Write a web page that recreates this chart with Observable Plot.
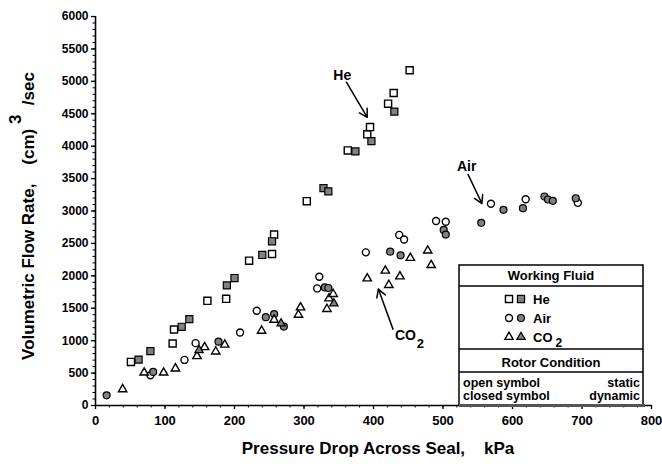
<!DOCTYPE html>
<html><head><meta charset="utf-8">
<script src="https://cdn.jsdelivr.net/npm/d3@7"></script>
<script src="https://cdn.jsdelivr.net/npm/@observablehq/plot@0.6"></script>
<style>
body{margin:0;background:#fff;}
svg{display:block;}
</style>
</head><body><div id="chart"></div>
<script>
// ---- data (kPa, cm^3/sec) ----
const heStaticX  = [51,111,113,161,188,221,254,257,304,363,391,395,421,429,452];
const heStaticY  = [672,956,1172,1615,1646,2234,2337,2636,3151,3934,4182,4295,4656,4820,5171];
const heDynX     = [62,79,124,135,189,200,240,254,328,335,374,397,430];
const heDynY     = [708,838,1214,1333,1852,1966,2322,2533,3352,3303,3919,4078,4533];
const airStaticX = [79,128,144,208,232,319,322,389,437,444,490,504,569,619,694];
const airStaticY = [467,703,962,1126,1461,1806,1987,2362,2631,2560,2845,2835,3111,3182,3126];
const airDynX    = [16,83,177,245,257,271,330,335,424,439,501,504,555,587,615,646,651,658,691];
const airDynY    = [157,518,984,1363,1410,1218,1821,1812,2373,2316,2708,2636,2817,3018,3043,3224,3177,3157,3197];
const co2StaticX = [39,70,98,115,146,157,173,186,239,257,292,295,333,336,342,391,417,422,438,453,478,483];
const co2StaticY = [250,507,507,570,760,899,832,938,1152,1322,1399,1512,1487,1651,1719,1960,2079,1858,1991,2276,2389,2165];
const co2DynX    = [149,267,343];
const co2DynY    = [853,1265,1574];

const xTicks = [0,100,200,300,400,500,600,700,800];
const yTicks = [0,500,1000,1500,2000,2500,3000,3500,4000,4500,5000,5500,6000];
const xMinor = d3.range(0, 801, 20);
const yMinor = d3.range(0, 6001, 100);

// annotations (data coordinates)
const labelText = ["He","Air","CO"];
const labelX = [355,534,446];
const labelY = [5094,3688,1074];
const arrowX1 = [361,536,428];
const arrowY1 = [4986,3564,1178];
const arrowX2 = [391,556,407];
const arrowY2 = [4445,3115,1796];

const pts = (xs, ys) => xs.map((x, i) => ({x, y: ys[i]}));
const labels = labelText.map((t, i) => ({t, x: labelX[i], y: labelY[i]}));
const arrows = arrowX1.map((x1, i) => ({x1, y1: arrowY1[i], x2: arrowX2[i], y2: arrowY2[i]}));

const closedFill = "#808080";
const font = "Liberation Sans, Arial, Helvetica, sans-serif";

const chart = Plot.plot({
  width: 662, height: 464,
  marginLeft: 95, marginRight: 11, marginTop: 16, marginBottom: 59,
  style: {fontFamily: font, background: "white", color: "black"},
  x: {domain: [0, 800]},
  y: {domain: [0, 6000]},
  marks: [
    Plot.axisX(xMinor, {tickSize: 2.5, tickFormat: () => "", label: null, strokeWidth: 1}),
    Plot.axisY(yMinor, {tickSize: 2.5, tickFormat: () => "", label: null, strokeWidth: 1}),
    Plot.axisX(xTicks, {tickSize: 4, tickPadding: 6, fontSize: 13, fontWeight: "bold", label: null, strokeWidth: 1.3, tickFormat: d => String(d)}),
    Plot.axisY(yTicks, {tickSize: 4, tickPadding: 3, fontSize: 12, fontWeight: "bold", label: null, strokeWidth: 1.3, tickFormat: d => String(d)}),
    Plot.ruleY([0], {strokeWidth: 1.6}),
    Plot.ruleX([0], {strokeWidth: 1.6}),
    Plot.dot(pts(heStaticX, heStaticY), {x: "x", y: "y", symbol: "square", r: 4, fill: "white", stroke: "black", strokeWidth: 1.4}),
    Plot.dot(pts(heDynX, heDynY), {x: "x", y: "y", symbol: "square", r: 4, fill: closedFill, stroke: "black", strokeWidth: 1.2}),
    Plot.dot(pts(airStaticX, airStaticY), {x: "x", y: "y", symbol: "circle", r: 3.5, fill: "white", stroke: "black", strokeWidth: 1.4}),
    Plot.dot(pts(airDynX, airDynY), {x: "x", y: "y", symbol: "circle", r: 3.5, fill: closedFill, stroke: "black", strokeWidth: 1.2}),
    Plot.dot(pts(co2StaticX, co2StaticY), {x: "x", y: "y", symbol: "triangle", r: 3.1, fill: "white", stroke: "black", strokeWidth: 1.4}),
    Plot.dot(pts(co2DynX, co2DynY), {x: "x", y: "y", symbol: "triangle", r: 3.1, fill: closedFill, stroke: "black", strokeWidth: 1.2}),
    Plot.arrow(arrows, {x1: "x1", y1: "y1", x2: "x2", y2: "y2", stroke: "black", strokeWidth: 1.5, headLength: 9}),
    Plot.text(labels, {x: "x", y: "y", text: "t", fontSize: 14, fontWeight: "bold", fill: "black"}),
    Plot.text(labels.filter(d => d.t === "CO"), {x: "x", y: "y", text: () => "2", dx: 15, dy: 8, fontSize: 13, fontWeight: "bold", fill: "black"})
  ]
});

document.getElementById("chart").appendChild(chart);
const svg = d3.select(chart);

// axis titles
svg.append("text")
  .attr("x", 378).attr("y", 454)
  .attr("text-anchor", "middle")
  .attr("font-family", font).attr("font-size", 17).attr("font-weight", "bold")
  .attr("fill", "black")
  .text("Pressure Drop Across Seal,\u00a0\u00a0\u00a0\u00a0kPa");

const yt = svg.append("text")
  .attr("transform", "translate(34,216) rotate(-90)")
  .attr("text-anchor", "middle")
  .attr("font-family", font).attr("font-size", 17).attr("font-weight", "bold")
  .attr("fill", "black");
yt.append("tspan").text("Volumetric Flow Rate,\u00a0\u00a0\u00a0\u00a0(cm)\u00a0");
yt.append("tspan").attr("dy", "-0.75em").text("3");
yt.append("tspan").attr("dy", "0.75em").text("\u00a0\u00a0/sec");

// legend box
const lg = svg.append("g").attr("font-family", font).attr("font-weight", "bold").attr("fill", "black").attr("text-anchor", "start");
lg.append("rect").attr("x", 459).attr("y", 265).attr("width", 184).attr("height", 140)
  .attr("fill", "white").attr("stroke", "black").attr("stroke-width", 1.5);
[286, 349, 372].forEach(y => lg.append("line").attr("x1", 459).attr("x2", 643).attr("y1", y).attr("y2", y)
  .attr("stroke", "black").attr("stroke-width", 1.4));
lg.append("line").attr("x1", 459).attr("x2", 645).attr("y1", 405.5).attr("y2", 405.5)
  .attr("stroke", "#555").attr("stroke-width", 3);
lg.append("text").attr("x", 551).attr("y", 279.5).attr("text-anchor", "middle").attr("font-size", 13).text("Working Fluid");
lg.append("text").attr("x", 551).attr("y", 366.5).attr("text-anchor", "middle").attr("font-size", 13).text("Rotor Condition");
lg.append("text").attr("x", 463).attr("y", 387).attr("text-anchor", "start").attr("font-size", 12.5).text("open symbol");
lg.append("text").attr("x", 640).attr("y", 387).attr("text-anchor", "end").attr("font-size", 12.5).text("static");
lg.append("text").attr("x", 463).attr("y", 400).attr("text-anchor", "start").attr("font-size", 12.5).text("closed symbol");
lg.append("text").attr("x", 640).attr("y", 400).attr("text-anchor", "end").attr("font-size", 12.5).text("dynamic");

const legendRows = [
  {name: "He", sym: d3.symbolSquare, size: Math.PI * 16, y: 299},
  {name: "Air", sym: d3.symbolCircle, size: Math.PI * 12.25, y: 318},
  {name: "CO", sym: d3.symbolTriangle, size: Math.PI * 9.6, y: 337}
];
legendRows.forEach(r => {
  lg.append("path").attr("d", d3.symbol(r.sym, r.size)()).attr("transform", `translate(509,${r.y})`)
    .attr("fill", "white").attr("stroke", "black").attr("stroke-width", 1.4);
  lg.append("path").attr("d", d3.symbol(r.sym, r.size)()).attr("transform", `translate(521,${r.y})`)
    .attr("fill", closedFill).attr("stroke", "black").attr("stroke-width", 1.2);
  const t = lg.append("text").attr("x", 533).attr("y", r.y + 4.5).attr("text-anchor", "start").attr("font-size", 13).text(r.name);
  if (r.name === "CO") t.append("tspan").attr("dx", 3).attr("dy", 5).attr("font-size", 12).text("2");
});
</script>
</body></html>
